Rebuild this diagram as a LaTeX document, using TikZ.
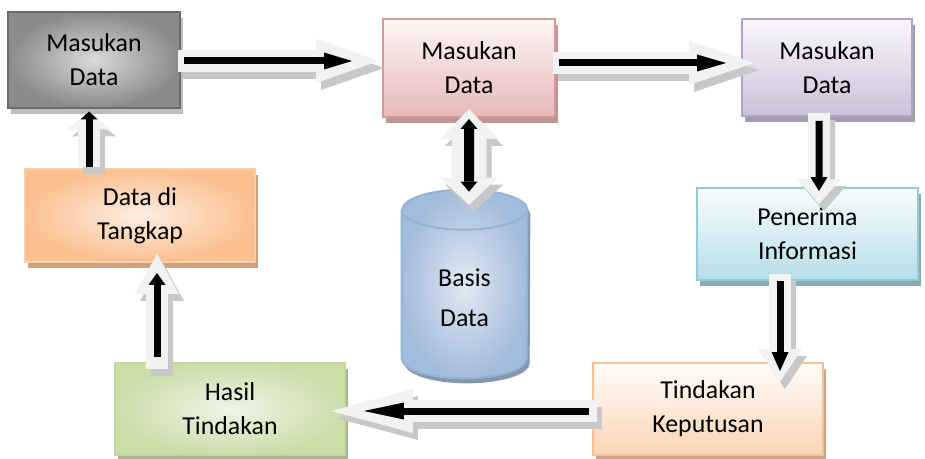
\documentclass[tikz,border=0pt]{standalone}
\usepackage{fontspec}
\setmainfont{Carlito}
\usepackage{tikz}
\usetikzlibrary{shapes}
\usetikzlibrary{shadows}
\usetikzlibrary{calc}
\usetikzlibrary{arrows.meta}
\definecolor{grayline}{HTML}{6B6B6B}
\definecolor{graydark}{HTML}{8A8A8A}
\definecolor{graylight}{HTML}{DADADA}
\definecolor{grayshade}{HTML}{BDBDBD}
\definecolor{pinkline}{HTML}{D99694}
\definecolor{pinktop}{HTML}{FDF5F5}
\definecolor{pinkbot}{HTML}{E6B9B8}
\definecolor{pinkshade}{HTML}{BE9594}
\definecolor{lilacline}{HTML}{B3A2C7}
\definecolor{lilactop}{HTML}{F9F7FB}
\definecolor{lilacbot}{HTML}{CCC1DA}
\definecolor{lilacshade}{HTML}{A49DAE}
\definecolor{cyanline}{HTML}{92CDDC}
\definecolor{cyantop}{HTML}{F8FCFD}
\definecolor{cyanbot}{HTML}{B7DDE8}
\definecolor{cyanshade}{HTML}{8CA9B1}
\definecolor{peachline}{HTML}{FAC090}
\definecolor{peachtop}{HTML}{FFFCFA}
\definecolor{peachbot}{HTML}{FBD4B4}
\definecolor{peachshade}{HTML}{C9A68C}
\definecolor{orangeline}{HTML}{FBCFAA}
\definecolor{orangedark}{HTML}{FAC090}
\definecolor{orangelight}{HTML}{FDEDE1}
\definecolor{orangeshade}{HTML}{CDA080}
\definecolor{greenline}{HTML}{C3D69B}
\definecolor{greendark}{HTML}{CCDDAA}
\definecolor{greenlight}{HTML}{EFF4E5}
\definecolor{greenshade}{HTML}{A9B592}
\definecolor{blueline}{HTML}{95B3D7}
\definecolor{bluedark}{HTML}{A3BCDB}
\definecolor{bluelight}{HTML}{E0E9F3}
\definecolor{blueshade}{HTML}{8497B0}
\definecolor{arrowwhite}{HTML}{F2F2F2}
\definecolor{arrowgray}{HTML}{C8C8C8}
\tikzstyle{box} = [rectangle, align=center, line width=1.1pt,
font=\fontsize{14.7}{19.3}\selectfont]
\tikzstyle{graybox} = [box, draw=grayline, line width=1.6pt,
inner color=graylight, outer color=graydark,
general shadow={fill=grayshade, shadow xshift=0.06cm, shadow yshift=-0.12cm}]
\tikzstyle{pinkbox} = [box, draw=pinkline, top color=pinktop, bottom color=pinkbot,
general shadow={fill=pinkshade, shadow xshift=0.06cm, shadow yshift=-0.12cm}]
\tikzstyle{lilacbox} = [box, draw=lilacline, top color=lilactop, bottom color=lilacbot,
general shadow={fill=lilacshade, shadow xshift=0.06cm, shadow yshift=-0.12cm}]
\tikzstyle{cyanbox} = [box, draw=cyanline, top color=cyantop, bottom color=cyanbot,
general shadow={fill=cyanshade, shadow xshift=0.06cm, shadow yshift=-0.12cm}]
\tikzstyle{peachbox} = [box, draw=peachline, top color=peachtop, bottom color=peachbot,
general shadow={fill=peachshade, shadow xshift=0.06cm, shadow yshift=-0.12cm}]
\tikzstyle{orangebox} = [box, draw=orangeline, inner color=orangelight, outer color=orangedark,
general shadow={fill=orangeshade, shadow xshift=0.06cm, shadow yshift=-0.12cm}]
\tikzstyle{greenbox} = [box, draw=greenline, inner color=greenlight, outer color=greendark,
general shadow={fill=greenshade, shadow xshift=0.06cm, shadow yshift=-0.12cm}]
\tikzstyle{store} = [draw=blueline, line width=1.1pt, inner color=bluelight, outer color=bluedark,
general shadow={fill=blueshade, shadow xshift=0.06cm, shadow yshift=-0.1cm}]
\tikzstyle{arrowshadow} = [draw=arrowgray, line width=0.44cm,
transform canvas={xshift=0.1cm, yshift=-0.14cm}]
\tikzstyle{arrowbody} = [draw=arrowwhite, line width=0.44cm]
\tikzstyle{arrowcore} = [draw=black, line width=0.14cm]
\newcommand{\flowarrow}[6]{ %
  % White arrow from #1 to #2 with a head #3 long,
  % black arrow inside it, cut by #4 and #5, head #6 long.
  \draw[arrowshadow, -{Triangle[length=#3, width=0.88cm, line width=0pt]}] #1 -- #2 ; %
  \draw[arrowbody, -{Triangle[length=#3, width=0.88cm, line width=0pt]}] #1 -- #2 ; %
  \draw[arrowcore, shorten <=#4, shorten >=#5,
    -{Triangle[length=#6, width=0.34cm, line width=0pt]}] #1 -- #2 ; %
}
\begin{document}
\begin{tikzpicture}[x=0.02cm,y=-0.02cm]
	\useasboundingbox (0,0) rectangle (925,459);

	\node[graybox, minimum width=3.44cm, minimum height=1.92cm] (in1) at (94,60) {Masukan\\Data};
	\node[pinkbox, minimum width=3.44cm, minimum height=1.96cm] (in2) at (469,68) {Masukan\\Data};
	\node[lilacbox, minimum width=3.40cm, minimum height=1.94cm] (in3) at (827,67.5) {Masukan\\Data};
	\node[cyanbox, minimum width=4.42cm, minimum height=1.84cm] (recv) at (807.5,234) {Penerima\\Informasi};
	\node[peachbox, minimum width=4.60cm, minimum height=1.84cm] (dec) at (708,409) {Tindakan\\Keputusan};
	\node[greenbox, minimum width=4.60cm, minimum height=1.84cm] (res) at (230,409) {Hasil\\Tindakan};
	\node[orangebox, minimum width=4.60cm, minimum height=1.86cm] (cap) at (140,215.5) {Data di\\Tangkap};

	% the database drum
	\node[minimum width=2.50cm, minimum height=3.76cm] (db) at (464.5,284) {};
	\path[store] ($(db.north west)+(0,20)$) -- ($(db.south west)+(0,-20)$)
	  arc[start angle=180, end angle=0, x radius=62.5, y radius=20]
	  -- ($(db.north east)+(0,20)$)
	  arc[start angle=0, end angle=-180, x radius=62.5, y radius=20] -- cycle;
	\draw[blueline, line width=1.1pt] ($(db.north west)+(0,20)$)
	  arc[start angle=180, end angle=0, x radius=62.5, y radius=20];
	\node[align=center, font=\fontsize{14.7}{22.8}\selectfont] (db-caption)
	  at ($(db.center)+(0,14)$) {Basis\\Data};

	\flowarrow {($(in1.east)+(-3,1)$)} {($(in2.west)+(-3,-7)$)} {1.26cm} {0.12cm} {0.54cm} {0.56cm}
	\flowarrow {($(in2.east)+(-3,-5)$)} {($(in3.west)+(13,-4.5)$)} {1.30cm} {0.12cm} {0.56cm} {0.58cm}
	\flowarrow {($(in3.south)+(-8,-4)$)} {($(recv.north)+(11.5,17)$)} {0.50cm} {0.16cm} {0.26cm} {0.28cm}
	\flowarrow {($(recv.south)+(-27.5,-7)$)} {($(dec.north)+(72,20)$)} {0.66cm} {0.14cm} {0.22cm} {0.38cm}
	\flowarrow {($(dec.west)+(5,2)$)} {($(res.east)+(-15,2)$)} {1.64cm} {0.16cm} {0.66cm} {0.80cm}
	\flowarrow {($(res.north)+(-73,7)$)} {($(cap.south)+(17,-9)$)} {0.80cm} {0.24cm} {0.38cm} {0.24cm}
	\flowarrow {($(cap.north)+(-51,-1)$)} {($(in1.south)+(-5,2)$)} {0.36cm} {0cm} {0cm} {0.16cm}

	% two-way link to the database
	\draw[arrowshadow, line width=0.7cm,
	  {Triangle[length=0.6cm, width=1.16cm, line width=0pt]}-{Triangle[length=0.54cm, width=1.16cm, line width=0pt]}]
	  ($(in2.south)+(0,-9)$) -- ($(db.north)+(4.5,15)$);
	\draw[arrowbody, line width=0.7cm,
	  {Triangle[length=0.6cm, width=1.16cm, line width=0pt]}-{Triangle[length=0.54cm, width=1.16cm, line width=0pt]}]
	  ($(in2.south)+(0,-9)$) -- ($(db.north)+(4.5,15)$);
	\draw[arrowcore, line width=0.2cm, shorten <=0.2cm, shorten >=0.26cm,
	  {Triangle[length=0.2cm, width=0.34cm, line width=0pt]}-{Triangle[length=0.2cm, width=0.34cm, line width=0pt]}]
	  ($(in2.south)+(0,-9)$) -- ($(db.north)+(4.5,15)$);

\end{tikzpicture}
\end{document}
